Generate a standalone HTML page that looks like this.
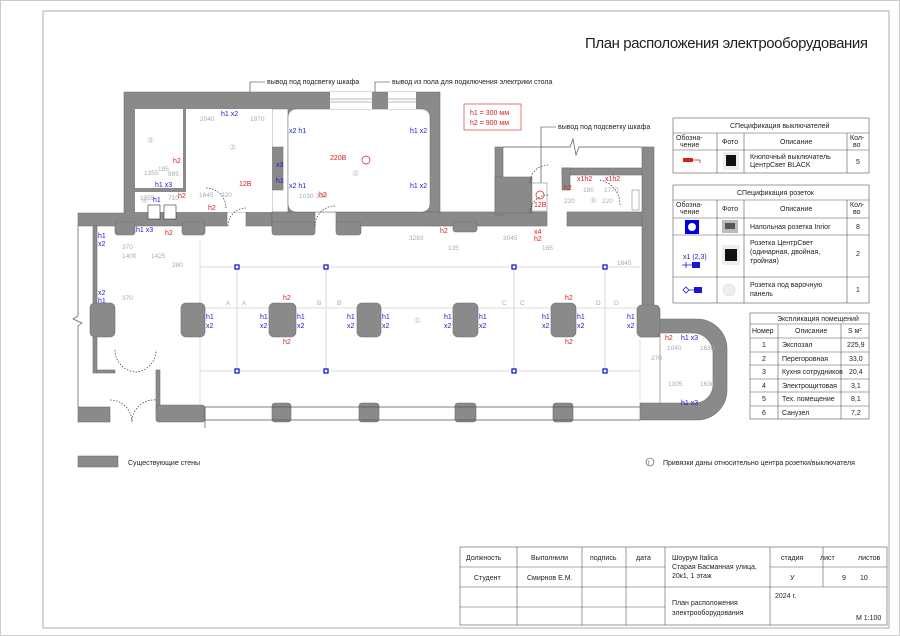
<!DOCTYPE html>
<html><head><meta charset="utf-8"><style>
html,body{margin:0;padding:0;background:#fff}
svg{display:block}
text{font-family:"Liberation Sans",sans-serif}
.g{fill:#8a8a8a;stroke:#6e6e6e;stroke-width:.6}
.d{fill:#aaa;font-size:6.5px}
.b{fill:#1a1acc;font-size:7px}
.r{fill:#d42020;font-size:7px}
.k{fill:#222;font-size:7px}
.ln{stroke:#d0d0d0;stroke-width:.8;fill:none}
.t{stroke:#666;stroke-width:.7;fill:#fff}
.dash{stroke:#333;stroke-width:.7;fill:none;stroke-dasharray:1.5 1.5}
</style></head><body>
<svg width="900" height="636" viewBox="0 0 900 636" xmlns="http://www.w3.org/2000/svg">
<rect x="0.5" y="0.5" width="899" height="635" fill="none" stroke="#ccc"/>
<rect x="43" y="11" width="846" height="617" fill="none" stroke="#999" stroke-width=".8"/>
<text x="585" y="48" font-size="15" fill="#222" textLength="283">План расположения электрооборудования</text>

<!-- leaders -->
<g stroke="#333" stroke-width=".6" fill="none">
<path d="M265 82 H250 V176"/><path d="M390 82 H375 V168"/><path d="M556 127 H541 V183"/>
</g>
<text x="267" y="84" class="k" font-size="6.5">вывод под подсветку шкафа</text>
<text x="392" y="84" class="k" font-size="6.5">вывод из пола для подключения электрики стола</text>
<text x="558" y="129" class="k" font-size="6.5">вывод под подсветку шкафа</text>
<rect x="464" y="104" width="57" height="26" fill="none" stroke="#d42020" stroke-width=".6"/>
<text x="470" y="115" class="r" font-size="6.5">h1 = 300 мм</text>
<text x="470" y="125" class="r" font-size="6.5">h2 = 900 мм</text>

<!-- hall guide lines -->
<g class="ln">
<path d="M200 267 H640 M200 371 H640 M237 267 V371 M326 267 V371 M514 267 V371 M605 267 V371 M200 308 H640 M200 240 V410 M640 340 V400"/>
</g>
<g fill="#fff" stroke="#1a1acc" stroke-width="1.3">
<rect x="235" y="265" width="4" height="4"/><rect x="324" y="265" width="4" height="4"/><rect x="512" y="265" width="4" height="4"/><rect x="603" y="265" width="4" height="4"/>
<rect x="235" y="369" width="4" height="4"/><rect x="324" y="369" width="4" height="4"/><rect x="512" y="369" width="4" height="4"/><rect x="603" y="369" width="4" height="4"/>
</g>
<text x="617" y="265" class="d">1645</text>

<!-- walls -->
<g class="g">
<path d="M124 92 H440 V226 H430 V212 H288 V109 H272 V147 H283 V190 H272 V226 H246 V212 H227 V226 H78 V213 H124 Z"/>
<path d="M135 109 H183 V188 H135 Z" fill="#fff" stroke="none"/>
<path d="M186 109 H272 V212 H186 Z" fill="#fff" stroke="none"/>
<path d="M135 192 H206 V212 H135 Z" fill="#fff" stroke="none"/>
<rect x="336" y="212" width="211" height="14"/>
<rect x="272" y="212" width="43" height="14"/>
<rect x="495" y="147" width="8" height="68"/>
<rect x="495" y="177" width="37" height="36"/>
<rect x="567" y="212" width="75" height="14"/>
<rect x="562" y="168" width="80" height="7"/>
<rect x="562" y="168" width="8" height="22"/>
<rect x="642" y="147" width="12" height="186"/>
<path fill-rule="evenodd" d="M640 319 H697 A30 30 0 0 1 727 349 V390 A30 30 0 0 1 697 420 H640 V403 H660 V337 H640 Z M660 333 H693 A20 20 0 0 1 713 353 V385 A18 18 0 0 1 695 403 H660 Z"/>
<rect x="637" y="305" width="23" height="32" rx="5"/>
<rect x="115" y="222" width="20" height="13" rx="3"/><rect x="182" y="222" width="23" height="13" rx="3"/>
<rect x="272" y="222" width="43" height="13" rx="3"/><rect x="336" y="222" width="25" height="13" rx="3"/>
<rect x="453" y="222" width="24" height="10" rx="3"/>
<rect x="93" y="226" width="4" height="147"/>
<rect x="90" y="303" width="25" height="34" rx="5"/>
<rect x="97" y="370" width="18" height="3"/>
<rect x="156" y="370" width="4" height="40"/>
<rect x="78" y="407" width="32" height="15"/>
<rect x="156" y="405" width="49" height="17" rx="3"/>
<rect x="181" y="303" width="24" height="34" rx="5"/><rect x="269" y="303" width="27" height="34" rx="5"/>
<rect x="357" y="303" width="24" height="34" rx="5"/><rect x="453" y="303" width="25" height="34" rx="5"/>
<rect x="551" y="303" width="25" height="34" rx="5"/>
<rect x="272" y="403" width="19" height="19" rx="3"/><rect x="359" y="403" width="20" height="19" rx="3"/>
<rect x="455" y="403" width="21" height="19" rx="3"/><rect x="553" y="403" width="20" height="19" rx="3"/>
</g>
<rect x="288" y="109" width="142" height="103" rx="8" fill="#fff" stroke="#6e6e6e" stroke-width=".5"/>
<rect x="330" y="92" width="42" height="17" fill="#fff"/><rect x="388" y="92" width="28" height="17" fill="#fff"/>
<path d="M330 99 H372 M330 102 H372 M388 99 H416 M388 102 H416" stroke="#777" stroke-width=".6"/>
<rect x="532" y="183" width="15" height="28" fill="#fff" stroke="#777" stroke-width=".5"/>
<rect x="632" y="190" width="7" height="20" fill="#fff" stroke="#777" stroke-width=".5"/>
<rect x="148" y="205" width="12" height="14" fill="#fff" stroke="#333" stroke-width=".6"/><rect x="164" y="205" width="12" height="14" fill="#fff" stroke="#333" stroke-width=".6"/>
<g stroke="#555" stroke-width=".7" fill="none">
<path d="M503 147 H570 L573 139 L576 155 L579 147 H642"/>
<path d="M78 226 V316 L73 319 L82 323 L78 326 V407"/>
<path d="M205 407 H640 M205 420 H640 M205 407 V428"/>
</g>
<g class="dash">
<path d="M206 188 A20 20 0 0 1 226 208"/><path d="M228 226 A18 18 0 0 1 246 208"/><path d="M315 226 A20 20 0 0 1 336 206"/>
<path d="M530 183 A18 18 0 0 1 548 165"/><path d="M530 213 A18 18 0 0 1 548 195"/><path d="M600 180 A25 25 0 0 1 620 205"/>
<path d="M115 350 A22 22 0 0 0 137 372 A22 22 0 0 0 156 350"/><path d="M110 400 A22 22 0 0 1 132 422 A22 22 0 0 1 156 400"/>
</g>

<!-- labels -->
<g class="d">
<text x="200" y="121">2040</text><text x="250" y="121">1970</text><text x="144" y="175">1355</text><text x="168" y="176">995</text>
<text x="158" y="171">185</text><text x="140" y="200">1355</text><text x="168" y="200">710</text><text x="199" y="197">1645</text><text x="221" y="197">320</text>
<text x="122" y="249">370</text><text x="122" y="258">1400</text><text x="151" y="258">1425</text><text x="172" y="267">280</text><text x="122" y="300">370</text>
<text x="299" y="198">1030</text><text x="316" y="198">330</text><text x="409" y="240">3283</text><text x="448" y="250">135</text>
<text x="503" y="240">3045</text><text x="542" y="250">165</text><text x="583" y="192">180</text><text x="604" y="192">1770</text>
<text x="564" y="203">220</text><text x="602" y="203">220</text><text x="667" y="350">1040</text><text x="700" y="350">1630</text>
<text x="651" y="360">270</text><text x="668" y="386">1305</text><text x="700" y="386">1630</text>
<text x="226" y="305">A</text><text x="242" y="305">A</text><text x="317" y="305">B</text><text x="337" y="305">B</text><text x="502" y="305">C</text><text x="520" y="305">C</text><text x="596" y="305">D</text><text x="614" y="305">D</text>
</g>
<g fill="#bbb" font-size="8"><text x="414" y="323">①</text><text x="352" y="176">②</text><text x="229" y="150">③</text><text x="147" y="143">⑤</text><text x="141" y="203">④</text><text x="590" y="203">⑥</text></g>
<g class="b">
<text x="221" y="116">h1 x2</text><text x="289" y="133">x2 h1</text><text x="410" y="133">h1 x2</text><text x="289" y="188">x2 h1</text><text x="410" y="188">h1 x2</text>
<text x="276" y="167">x3</text><text x="276" y="183">h1</text><text x="155" y="187">h1 x3</text><text x="153" y="202">h1</text><text x="136" y="232">h1 x3</text>
<text x="98" y="238">h1</text><text x="98" y="246">x2</text><text x="98" y="295">x2</text><text x="98" y="303">h1</text>
<text x="206" y="319">h1</text><text x="206" y="328">x2</text><text x="260" y="319">h1</text><text x="260" y="328">x2</text><text x="297" y="319">h1</text><text x="297" y="328">x2</text>
<text x="347" y="319">h1</text><text x="347" y="328">x2</text><text x="382" y="319">h1</text><text x="382" y="328">x2</text>
<text x="444" y="319">h1</text><text x="444" y="328">x2</text><text x="479" y="319">h1</text><text x="479" y="328">x2</text>
<text x="542" y="319">h1</text><text x="542" y="328">x2</text><text x="577" y="319">h1</text><text x="577" y="328">x2</text><text x="627" y="319">h1</text><text x="627" y="328">x2</text>
<text x="681" y="340">h1 x3</text><text x="681" y="405">h1 x3</text>
</g>
<g class="r">
<text x="173" y="163">h2</text><text x="178" y="198">h2</text><text x="208" y="210">h2</text><text x="165" y="235">h2</text><text x="239" y="186">12B</text>
<text x="330" y="160">220B</text><text x="319" y="197">h2</text><text x="440" y="233">h2</text><text x="534" y="207">12B</text><text x="534" y="234">x4</text><text x="534" y="241">h2</text>
<text x="564" y="190">h2</text><text x="577" y="181">x1h2</text><text x="605" y="181">x1h2</text><text x="665" y="340">h2</text>
<text x="283" y="300">h2</text><text x="283" y="344">h2</text><text x="565" y="300">h2</text><text x="565" y="344">h2</text>
</g>
<circle cx="366" cy="160" r="4" fill="none" stroke="#d42020" stroke-width=".7"/>
<circle cx="540" cy="195" r="4" fill="none" stroke="#d42020" stroke-width=".7"/>

<!-- legend -->
<rect x="78" y="456" width="40" height="11" fill="#8a8a8a" stroke="#666" stroke-width=".5"/>
<text x="128" y="465" class="k">Существующие стены</text>
<circle cx="650" cy="462" r="4" fill="none" stroke="#333" stroke-width=".6"/><text x="648" y="465" font-size="6" fill="#333">!</text>
<text x="663" y="465" class="k">Привязки даны относительно центра розетки/выключателя</text>

<!-- spec tables -->
<g stroke="#555" stroke-width=".6" fill="none">
<rect x="673" y="118" width="196" height="55"/><path d="M673 133 H869 M673 150 H869 M717 133 V173 M744 133 V173 M847 133 V173"/>
<rect x="673" y="185" width="196" height="118"/><path d="M673 200 H869 M673 218 H869 M673 235 H869 M673 277 H869 M717 200 V303 M744 200 V303 M847 200 V303"/>
<rect x="750" y="313" width="119" height="106"/><path d="M750 324 H869 M750 338 H869 M750 352 H869 M750 365 H869 M750 379 H869 M750 392 H869 M750 406 H869 M778 324 V419 M841 324 V419"/>
</g>
<g class="k" font-size="6.5">
<text x="730" y="128">СПецификация выключателей</text>
<text x="676" y="140">Обозна-</text><text x="680" y="147">чение</text><text x="722" y="144">Фото</text><text x="780" y="144">Описание</text><text x="850" y="140">Кол-</text><text x="853" y="147">во</text>
<text x="750" y="159">Кнопочный выключатель</text><text x="750" y="167">ЦентрСвет BLACK</text><text x="856" y="164">5</text>
<text x="737" y="195">СПецификация розеток</text>
<text x="676" y="207">Обозна-</text><text x="680" y="214">чение</text><text x="722" y="211">Фото</text><text x="780" y="211">Описание</text><text x="850" y="207">Кол-</text><text x="853" y="214">во</text>
<text x="750" y="229">Напольная розетка Inrior</text><text x="856" y="229">8</text>
<text x="750" y="245">Розетка ЦентрСвет</text><text x="750" y="254">(одинарная, двойная,</text><text x="750" y="263">тройная)</text><text x="856" y="256">2</text>
<text x="750" y="287">Розетка под варочную</text><text x="750" y="296">панель</text><text x="856" y="292">1</text>
<text x="777" y="321">Экспликация помещений</text>
<text x="752" y="333">Номер</text><text x="795" y="333">Описание</text><text x="848" y="333">S м²</text>
<text x="762" y="347">1</text><text x="782" y="347">Экспозал</text><text x="847" y="347">225,9</text>
<text x="762" y="361">2</text><text x="782" y="361">Перегоровная</text><text x="849" y="361">33,0</text>
<text x="762" y="374">3</text><text x="782" y="374">Кухня сотрудников</text><text x="849" y="374">20,4</text>
<text x="762" y="388">4</text><text x="782" y="388">Электрощитовая</text><text x="851" y="388">3,1</text>
<text x="762" y="401">5</text><text x="782" y="401">Тех. помещение</text><text x="851" y="401">8,1</text>
<text x="762" y="415">6</text><text x="782" y="415">Санузел</text><text x="851" y="415">7,2</text>
</g>
<rect x="683" y="158" width="10" height="4" fill="#d42020"/><path d="M693 160 H700 V163" stroke="#d42020" stroke-width=".8" fill="none"/>
<rect x="723" y="152" width="16" height="18" fill="#eee"/><rect x="726" y="155" width="10" height="11" fill="#111"/>
<rect x="685" y="220" width="14" height="14" fill="#0000e0"/><circle cx="692" cy="227" r="4" fill="#fff"/>
<rect x="722" y="220" width="16" height="13" fill="#bbb"/><rect x="725" y="223" width="10" height="6" fill="#555"/>
<text x="683" y="259" class="b" font-size="6">x1 (2,3)</text><path d="M682 265 H692 M686 262 V268" stroke="#1a1acc" stroke-width=".8"/><rect x="692" y="262" width="8" height="6" fill="#1a1acc"/>
<rect x="722" y="245" width="18" height="20" fill="#eee"/><rect x="725" y="249" width="12" height="12" fill="#111"/>
<path d="M683 290 L686 287 L689 290 L686 293 Z M689 290 H694" stroke="#1a1acc" stroke-width=".8" fill="#fff"/><rect x="694" y="287" width="8" height="6" fill="#1a1acc"/>
<circle cx="729" cy="290" r="6" fill="#eee" stroke="#ccc" stroke-width=".5"/>

<!-- title block -->
<g stroke="#555" stroke-width=".6" fill="none">
<rect x="460" y="547" width="427" height="78"/>
<path d="M460 567 H665 M460 587 H887 M460 607 H665 M770 567 H887 M517 547 V625 M582 547 V625 M626 547 V625 M665 547 V625 M770 547 V587 M823 547 V587 M770 587 V625"/>
</g>
<g class="k" font-size="6.5">
<text x="466" y="560">Должность</text><text x="531" y="560">Выполнили</text><text x="590" y="560">подпись</text><text x="636" y="560">дата</text>
<text x="474" y="580">Студент</text><text x="527" y="580">Смирнов Е.М.</text>
<text x="672" y="560">Шоурум Italica</text><text x="672" y="569">Старая Басманная улица,</text><text x="672" y="578">20к1, 1 этаж</text>
<text x="781" y="560">стадия</text><text x="820" y="560">лист</text><text x="858" y="560">листов</text>
<text x="790" y="580">У</text><text x="842" y="580">9</text><text x="860" y="580">10</text>
<text x="672" y="605">План расположения</text><text x="672" y="615">электрооборудования</text>
<text x="775" y="598">2024 г.</text><text x="856" y="620">М 1:100</text>
</g>
</svg>
</body></html>
